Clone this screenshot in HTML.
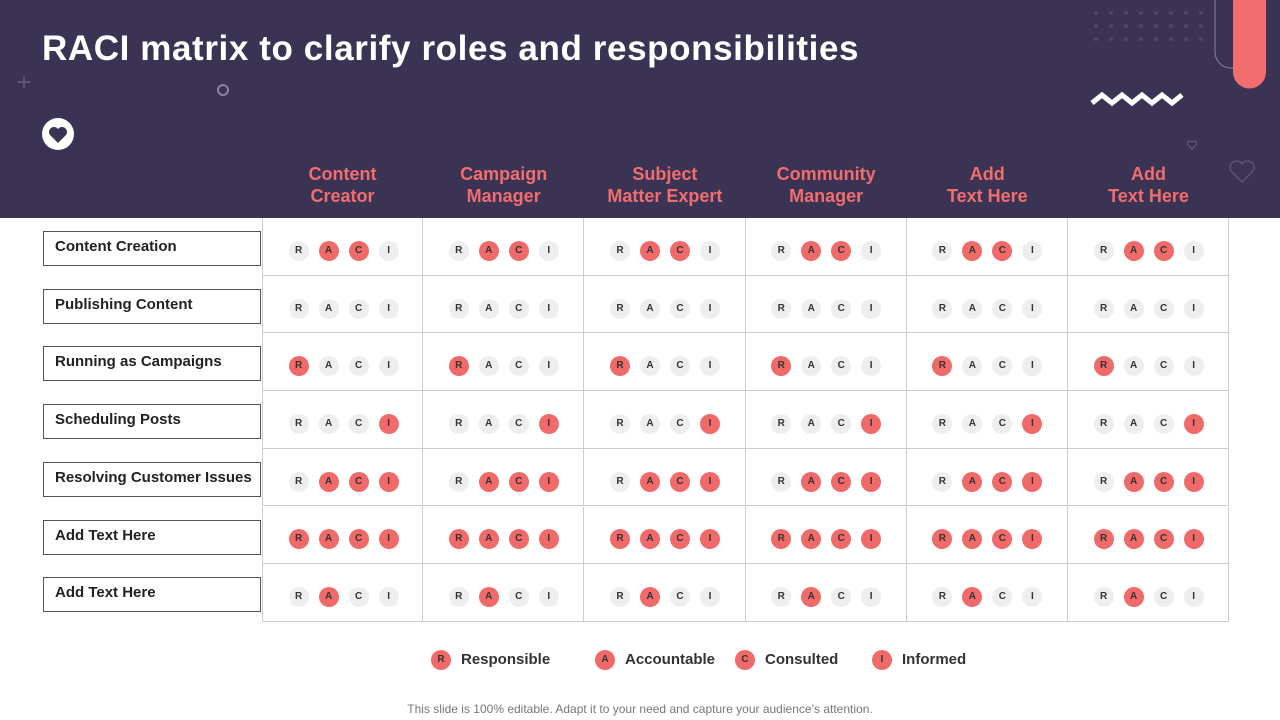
<!DOCTYPE html>
<html><head><meta charset="utf-8"><style>
body{margin:0;width:1280px;height:720px;position:relative;overflow:hidden;background:#fff;font-family:"Liberation Sans",sans-serif}
.hdr{position:absolute;left:0;top:0;width:1280px;height:218px;background:#3a3354}
.title{position:absolute;left:42px;top:29px;color:#fff;font-size:35px;font-weight:bold;letter-spacing:0.6px}
.role{position:absolute;top:163px;width:161px;text-align:center;color:#f26d6d;font-weight:bold;font-size:18px;line-height:22px}
.task{position:absolute;left:43px;border:1px solid #555;background:#fff;font-weight:bold;font-size:15px;line-height:30px;padding-left:11px;box-sizing:border-box;width:218px;height:35px;color:#222}
.cell{position:absolute;border-right:1px solid #ccc;border-bottom:1px solid #ccc;box-sizing:border-box}
.dot{position:absolute;width:20px;height:20px;border-radius:50%;background:#eee;color:#333;font-size:10px;font-weight:bold;text-align:center;line-height:20px}
.dot.on{background:#f06a6a}
.leg{position:absolute;top:650px;font-size:15px;font-weight:bold;color:#333;line-height:20px}
.leg .dot{position:relative;display:inline-block;vertical-align:middle;margin-right:10px;background:#f06a6a}
.foot{position:absolute;top:702px;width:1280px;text-align:center;font-size:12px;color:#777}
</style></head><body>
<div class="hdr">
<svg width="1280" height="218" style="position:absolute;left:0;top:0">
<g fill="#4d4668"><circle cx="1096" cy="13" r="2"/><circle cx="1111" cy="13" r="2"/><circle cx="1126" cy="13" r="2"/><circle cx="1141" cy="13" r="2"/><circle cx="1156" cy="13" r="2"/><circle cx="1171" cy="13" r="2"/><circle cx="1186" cy="13" r="2"/><circle cx="1201" cy="13" r="2"/>
<circle cx="1096" cy="26" r="2"/><circle cx="1111" cy="26" r="2"/><circle cx="1126" cy="26" r="2"/><circle cx="1141" cy="26" r="2"/><circle cx="1156" cy="26" r="2"/><circle cx="1171" cy="26" r="2"/><circle cx="1186" cy="26" r="2"/><circle cx="1201" cy="26" r="2"/>
<circle cx="1096" cy="39" r="2"/><circle cx="1111" cy="39" r="2"/><circle cx="1126" cy="39" r="2"/><circle cx="1141" cy="39" r="2"/><circle cx="1156" cy="39" r="2"/><circle cx="1171" cy="39" r="2"/><circle cx="1186" cy="39" r="2"/><circle cx="1201" cy="39" r="2"/></g>
<path d="M1215 0 V52 a16 16 0 0 0 32 0 V0" fill="none" stroke="#8a839e" stroke-width="1"/>
<path d="M1233 0 V72 a16 16 0 0 0 33 0 V0 Z" fill="#f26d6d"/>
<polyline points="1092,103 1102,95 1112,103 1122,95 1132,103 1142,95 1152,103 1162,95 1172,103 1182,95" fill="none" stroke="#fff" stroke-width="5"/>
<circle cx="223" cy="90" r="5" fill="none" stroke="#8a839e" stroke-width="2"/>
<path d="M18 82h12M24 76v12" stroke="#5a5376" stroke-width="2"/>
<circle cx="58" cy="134" r="16" fill="#fff"/>
<path d="M58 143 l-8-8 a4.5 4.5 0 0 1 8-6 a4.5 4.5 0 0 1 8 6z" fill="#3a3354"/>
<path d="M1242 182 l-11-11 a6 6 0 0 1 11-7 a6 6 0 0 1 11 7z" fill="none" stroke="#5a5376" stroke-width="1.5"/>
<path d="M1192 149 l-4-4 a2.5 2.5 0 0 1 4-3 a2.5 2.5 0 0 1 4 3z" fill="none" stroke="#6a6386" stroke-width="1"/>
</svg>
<div class="title">RACI matrix to clarify roles and responsibilities</div>
</div>
<div id="grid"></div>
<div class="leg" style="left:431px"><span class="dot">R</span>Responsible</div>
<div class="leg" style="left:595px"><span class="dot">A</span>Accountable</div>
<div class="leg" style="left:735px"><span class="dot">C</span>Consulted</div>
<div class="leg" style="left:872px"><span class="dot">I</span>Informed</div>
<div class="foot">This slide is 100% editable. Adapt it to your need and capture your audience’s attention.</div>
<script>
const roles=[["Content","Creator"],["Campaign","Manager"],["Subject","Matter Expert"],["Community","Manager"],["Add","Text Here"],["Add","Text Here"]];
const tasks=["Content Creation","Publishing Content","Running as Campaigns","Scheduling Posts","Resolving Customer Issues","Add Text Here","Add Text Here"];
const letters=["R","A","C","I"];
const assignments=[[0,1,1,0],[0,0,0,0],[1,0,0,0],[0,0,0,1],[0,1,1,1],[1,1,1,1],[0,1,0,0]];
const x0=262,colW=161.2,y0=218,rowH=57.7;
const body=document.body;
roles.forEach((r,i)=>{const d=document.createElement('div');d.className='role';


d.style.left=(x0+i*colW)+'px';d.innerHTML=r[0]+'<br>'+r[1];body.appendChild(d);});
tasks.forEach((t,j)=>{const d=document.createElement('div');d.className='task';


d.style.top=(y0+j*rowH+13)+'px';d.textContent=t;body.appendChild(d);
roles.forEach((r,i)=>{const c=document.createElement('div');c.className='cell';


c.style.left=(x0+i*colW)+'px';c.style.top=(y0+j*rowH)+'px';c.style.width=colW+'px';c.style.height=rowH+'px';
if(i===0)c.style.borderLeft='1px solid #ccc';
const cx=x0+(i+0.5)*colW,cy=y0+(j+0.5)*rowH+4;
letters.forEach((L,k)=>{const dot=document.createElement('div');dot.className='dot'+(assignments[j][k]?' on':'');


dot.textContent=L;dot.style.left=(cx-45+k*30-10-(x0+i*colW))+'px';dot.style.top=(cy-10-(y0+j*rowH))+'px';c.appendChild(dot);});
body.appendChild(c);});});
</script>
</body></html>
